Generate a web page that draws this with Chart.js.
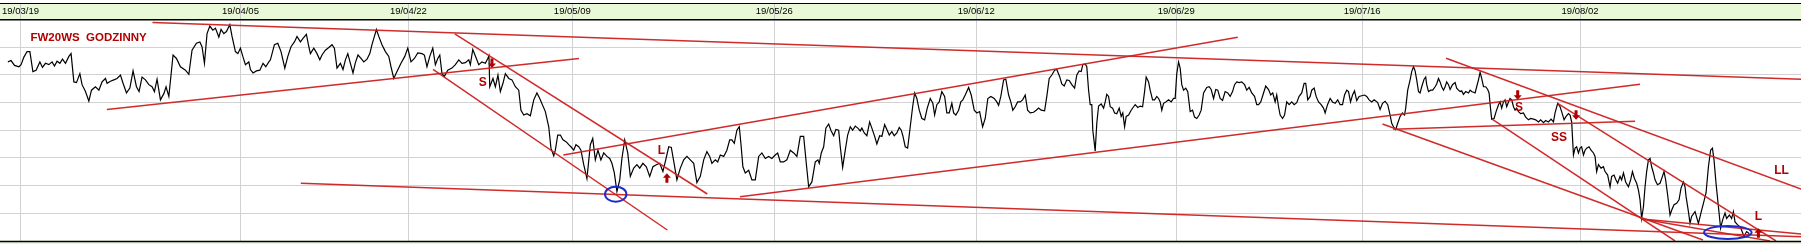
<!DOCTYPE html>
<html lang="pl">
<head>
<meta charset="UTF-8">
<title>FW20WS godzinny</title>
<script src="https://cdn.jsdelivr.net/npm/chart.js"></script>
<style>
    html, body { margin: 0; padding: 0; background: #fff; }
    #wrap { width: 1801px; height: 244px; }
</style>
</head>
<body>
<div id="wrap"><canvas id="fw20Chart" width="1801" height="244"></canvas></div>
<script>
// x = session hour index, y = FW20 price
const tickHours = [10, 120, 204, 286, 387, 488, 588, 681, 790];
const tickLabels = ['19/03/19', '19/04/05', '19/04/22', '19/05/09', '19/05/26', '19/06/12', '19/06/29', '19/07/16', '19/08/02'];

// hourly closes [hour, price]
const hourlyCloses = [
    [3.7,2330],[5.3,2332],[7,2325],[9.2,2323],[10.3,2326],[11.7,2337],[13.3,2345],[14.7,2345],[16.2,2316],[17.8,2318],
    [19.7,2330],[21,2322],[22.5,2328],[24.2,2326],[25.8,2330],[27,2324],[28.3,2331],[29.7,2328],[31,2334],[32.5,2328],
    [34.2,2338],[35.3,2342],[36.7,2301],[38,2300],[39.7,2313],[40.8,2297],[42.5,2287],[44.2,2273],[45.5,2289],[47.5,2294],
    [49.2,2289],[50.8,2301],[52.5,2306],[53.3,2299],[55,2302],[56.7,2304],[58.3,2306],[60,2311],[61.3,2299],[63,2285],
    [64.7,2292],[66.3,2317],[68,2294],[69.3,2287],[70.8,2308],[72.5,2304],[74.2,2297],[75.8,2294],[77,2287],[78.3,2305],
    [80,2275],[81.7,2284],[82.8,2294],[84.2,2280],[86.3,2340],[88,2335],[90,2323],[92.5,2318],[94.2,2312],[95.8,2347],
    [98,2357],[99.7,2359],[100.8,2352],[102,2328],[103.3,2371],[104.7,2382],[106.2,2376],[107.5,2379],[109.2,2366],[110.3,2377],
    [111.7,2371],[113,2374],[114.7,2384],[115.8,2367],[117.5,2345],[118.7,2342],[120,2350],[121.2,2338],[122.5,2326],[124.2,2330],
    [125,2319],[126.3,2314],[128,2317],[129.7,2318],[131.3,2328],[132.7,2323],[134.2,2330],
    [135,2333],[137,2355],[138.7,2357],[140.3,2345],[142.2,2321],[143.7,2338],[145.3,2352],[147,2359],[148.3,2367],[150,2359],
    [151.3,2364],[153,2370],[154.2,2352],[155,2342],[156.7,2350],[158.3,2342],[159.7,2333],[160.8,2340],[162.5,2347],[164.2,2351],
    [165.8,2355],[167,2350],[168.3,2321],[170,2328],[171.3,2319],[172.5,2333],[173.7,2342],[175,2328],[176.3,2314],[177.5,2329],
    [178.8,2340],[180.3,2335],[181.7,2330],[183.3,2334],[184.7,2342],[185.8,2355],[187,2367],[188,2377],[189.2,2367],[190.8,2355],
    [192.5,2345],[194.2,2338],[195.3,2323],[196.7,2306],[198.3,2316],[200.3,2328],[202.2,2338],[203.7,2350],[205.3,2330],[207,2335],
    [208.7,2343],[210.8,2342],[212,2340],[213.3,2323],[214.7,2338],[216.2,2350],[217.5,2326],[218.7,2335],[219.7,2340],[220.8,2313],
    [222,2309],[223.7,2318],[225.8,2321],[227.5,2326],[229.2,2333],[230.8,2328],[232.5,2329],[234.2,2333],[235,2326],[236.2,2348],
    [238,2335],[239.2,2326],[240.8,2330],[242.5,2328],[243.7,2335],[244.3,2339],[244.7,2294],[246.3,2306],[247.5,2294],[248.8,2311],
    [250,2287],[251.3,2299],[252.5,2313],[254.2,2306],[255.8,2304],[257.5,2294],[259.2,2289],[260.3,2260],[261.7,2253],[263.3,2255],
    [265,2252],[266.7,2275],[268.3,2285],[269.7,2277],
    [272.5,2258],[274.2,2236],[275.3,2205],[276.7,2194],[277.5,2202],[278.7,2224],[280,2224],[281.3,2217],[283,2214],[284.2,2210],
    [285.3,2207],[286.7,2202],[287.8,2210],[289.2,2207],[290.3,2202],[291.7,2181],[293.3,2161],[295,2210],[296.2,2219],[297.5,2188],
    [298.8,2202],[300.3,2188],[301.7,2198],[303.3,2193],[304.7,2190],[305.8,2183],[307,2169],[308.3,2142],[309.7,2159],[310.8,2190],
    [312.2,2217],[313.7,2198],[315,2164],[316.7,2176],[318.3,2181],[319.7,2176],[321.3,2183],[323,2178],[324.7,2164],[326.3,2178],
    [328,2181],[329.7,2183],[331.3,2171],[332.7,2188],[334.2,2207],[335.5,2206],[337,2181],[338.3,2159],[340,2176],[341.7,2188],
    [343.3,2193],[345,2188],[346.7,2183],[348.3,2155],[350,2164],[351.7,2188],[353.3,2200],[354.7,2193],[355.8,2183],[357.5,2188],
    [358.7,2185],[360,2195],[361.7,2193],[363.3,2202],[364.7,2217],[365.8,2217],[367,2212],[368.3,2231],[369.5,2236],[370.3,2212],
    [371.3,2178],[372.5,2169],[374.2,2173],[375.8,2159],[377.5,2159],[379.2,2193],[380.8,2198],[382.5,2190],[384.2,2193],[385.8,2190],
    [387.5,2195],[388.7,2198],[390,2185],[391.7,2185],[393.3,2188],[395,2202],[396.7,2198],[398.3,2193],[400,2222],[401.7,2222],
    [403,2183],[404.2,2149],[405.8,2156],
    [407.5,2185],[408.8,2188],[409.5,2183],[410.5,2198],[411.7,2207],[412.8,2234],[414.2,2240],[415.3,2231],[416.7,2223],[417.8,2232],
    [419.2,2231],[420,2207],[421.2,2177],[422.5,2202],[423.7,2224],[425,2236],[426.2,2231],[427.5,2237],[428.8,2234],[430,2230],
    [430.8,2234],[432,2227],[433.3,2223],[434.7,2243],[435.8,2234],[437.2,2222],[438.3,2211],[439.7,2223],[440.8,2222],[442.2,2239],
    [443.3,2232],[444.5,2224],[445.8,2229],[447,2223],[448.3,2227],[449.5,2235],[450.5,2231],[451.3,2223],[452.5,2207],[453.7,2205],
    [455,2236],[456.2,2265],[457.2,2285],[458.3,2277],[459.5,2260],[460.8,2248],[462.2,2246],[463.5,2263],[465,2277],[466.3,2270],
    [467.2,2253],[468.3,2268],[469.5,2272],[470.8,2287],[472.2,2280],[473.3,2256],[474.5,2256],[475.8,2270],[476.7,2256],[477.8,2253],
    [479.2,2260],[480.3,2272],[481.3,2275],[482.5,2282],[484.2,2293],[485.5,2282],[487,2260],[488.3,2256],[489.7,2258],[491.2,2236],
    [492.5,2248],[493.8,2277],[495.3,2280],[497,2277],[498.3,2272],[499.2,2267],[500.3,2280],[501.7,2304],[502.8,2305],[504.2,2282],
    [505.3,2272],[506.3,2260],[507.5,2265],[508.7,2272],[510,2272],[511.2,2275],[512.5,2282],[513.7,2260],[515,2256],[516.7,2257],
    [518,2260],[519.2,2263],[520.5,2260],[522.2,2259],[523.3,2280],[524.5,2306],[525.8,2311],[527.2,2318],[528.3,2319],[529.7,2309],
    [530.8,2298],[532,2295],[533.3,2304],[534.5,2303],[535.8,2297],[537.2,2292],[538.3,2311],[539.5,2317],[540.5,2316],[541.3,2326],
    [542.5,2327],[543.3,2323],[544.2,2289],[545,2268],[545.8,2268],[546.3,2231],[547.5,2201],
    [548.3,2241],[549.2,2266],[550.5,2269],[551.7,2263],[552.5,2272],[553.3,2283],[554.2,2280],[555,2265],[556.2,2263],[557.2,2256],
    [558.3,2255],[559.5,2263],[560.5,2251],[561.3,2256],[562.2,2236],[563,2251],[564.2,2253],[565.5,2260],[566.7,2265],[567.5,2268],
    [568.8,2264],[570,2266],[571.2,2265],[572.2,2287],[573,2308],[574.2,2301],[575,2289],[576.2,2275],[577.2,2275],[578.3,2280],
    [579.2,2277],[580,2272],[580.8,2260],[581.7,2270],[582.8,2272],[584.2,2275],[585.5,2272],[586.7,2277],[587.5,2277],[588.3,2313],
    [589.2,2330],[590,2321],[590.8,2297],[591.7,2289],[592.8,2292],[593.8,2287],[595,2258],[596.2,2260],[597.2,2250],[598.3,2248],
    [599.5,2253],[600.5,2260],[601.7,2285],[603.3,2293],[604.5,2294],[605.5,2290],[606.7,2277],[607.8,2290],[608.8,2289],[610,2277],
    [611.2,2274],[612.5,2287],[613.8,2285],[615,2280],[616.2,2287],[617.2,2297],[618.3,2301],[619.5,2300],[620.8,2301],[622.2,2297],
    [623.3,2289],[624.5,2293],[625.8,2285],[627.2,2280],[628.3,2268],[629.2,2268],[630.3,2272],[631.7,2285],[632.8,2295],[634.2,2290],
    [635.3,2282],[636.3,2285],[637.5,2272],[638.3,2282],[639.2,2265],[640,2253],[641.2,2248],[642.2,2253],[643.3,2272],[644.5,2268],
    [645.8,2272],[647,2268],[648.3,2271],[649.5,2280],[650.8,2285],[652,2299],[652.8,2299],[653.8,2275],[655,2280],[655.8,2289],
    [657,2292],[658,2280],[659.2,2272],[660.5,2268],[661.7,2263],[662.5,2256],[663.7,2268],[665,2277],[666.2,2272],[667.5,2270],
    [668.8,2275],[670,2268],[671.2,2268],[672.2,2282],[673.3,2289],[674.2,2287],[675.2,2272],[676.2,2282],[677.2,2288],[678.3,2274],
    [679.5,2280],[680.8,2281],[682.2,2282],[683.3,2280],[684.5,2275],[685.8,2272],[687,2275],
    [688.8,2271],[690,2261],[691.2,2270],[692.5,2273],[693.8,2268],[695,2253],[695.8,2241],[696.7,2236],[697.8,2232],[698.8,2241],
    [700,2251],[701.2,2256],[702.2,2253],[702.8,2263],[703.8,2289],[705,2304],[705.8,2316],[706.7,2323],[707.5,2317],[708.3,2304],
    [709.2,2287],[710,2285],[710.8,2294],[712,2305],[712.8,2308],[713.3,2297],[714.2,2287],[715.3,2289],[716.3,2289],[717.5,2294],
    [718.3,2298],[719.2,2306],[720,2301],[720.8,2294],[721.7,2289],[722.5,2294],[723.3,2301],[724.2,2297],[725,2290],[726.2,2297],
    [727.5,2300],[728.3,2292],[729.2,2289],[730,2287],[730.8,2288],[731.7,2283],[732.8,2287],[734.2,2285],[735,2289],[735.8,2287],
    [737.5,2285],[738.3,2294],[739.2,2304],[740,2315],[740.8,2306],[741.7,2294],[742.8,2294],[743.8,2290],[744.5,2285],[745.2,2263],
    [745.8,2247],[747,2248],[748,2258],[749.2,2268],[750,2272],[750.8,2263],[751.7,2272],[752.5,2275],[753.3,2265],[754.2,2272],
    [755,2277],[755.8,2275],[756.7,2265],[757.5,2260],[758.3,2263],[759.2,2258],[760.3,2255],[761.7,2256],[762.8,2250],[764.2,2246],
    [765.3,2248],[766.7,2247],[767.8,2246],[769.2,2243],[770.3,2246],[771.7,2242],[772.8,2245],[774.2,2243],[775.5,2247],[776.7,2243],
    [777.5,2256],[778.8,2270],[780,2265],[780.8,2258],[782,2246],[783,2251],[784.2,2255],[785,2253],[785.8,2243],[786.7,2195],
    [787.5,2205],[788.3,2207],[789.2,2198],[790,2205],[790.8,2207],[791.7,2195],[792.5,2202],[793.3,2205],[794.5,2207],[795.5,2202],
    [796.7,2198],[797.5,2193],[798.3,2171],[799.2,2181],[800.5,2176],[801.7,2178],[802.5,2171],[803.8,2166],[805,2149],[805.8,2164],
    [807,2166],[807.8,2160],[808.8,2154],[810,2164],[810.8,2159],[811.7,2169],[812.8,2156],[814.2,2149],[815.3,2159],[816.2,2171],
    [817.2,2161],[818.3,2154],[819.2,2144],[820,2130],[820.8,2103],[821.7,2120],[822.5,2149],[823.3,2171],[824.2,2188],[825,2190],
    [825.8,2178],[826.7,2169],[827.5,2159],[828.7,2152],[830,2154],[831.2,2164],[832,2171],[832.8,2159],[833.8,2137],[835,2108],
    [835.8,2115],[837,2123],[838.3,2125],[839.5,2130],[840.5,2147],[841.7,2156],[842.5,2149],
    [843,2135],[844.2,2113],[845,2096],[845.8,2106],[847.5,2113],[849.2,2096],[850.8,2115],[851.7,2125],[853,2140],[854.2,2178],
    [855.3,2202],[856.2,2205],[857,2188],[858,2154],[859.2,2120],[860.3,2089],[861.3,2101],[862.5,2111],[863.3,2103],[864.7,2108],
    [865.8,2103],[866.7,2113],[867.5,2098],[868.7,2094],[870,2091],[870.8,2086],[872,2077],[873.3,2084],[874.7,2081]
];

// hand drawn trend lines [hour1, price1, hour2, price2]
const trendLines = [
    [76, 2387, 900.5, 2305],
    [53.2, 2261, 289.3, 2335],
    [227.2, 2370.5, 353.5, 2138.5],
    [216.3, 2319.3, 333.5, 2086.3],
    [150.2, 2154, 900.5, 2076.6],
    [281.5, 2195, 618.8, 2365.7],
    [369.8, 2134.6, 820, 2297.6],
    [696.5, 2232.3, 817.5, 2243.9],
    [691.2, 2240, 851.5, 2071.8],
    [746.2, 2246.8, 837.5, 2070.4],
    [723, 2335.3, 900.5, 2145.8],
    [778.8, 2270, 888, 2070.4],
    [821, 2102.3, 900.5, 2080.5],
    [821, 2102.3, 885, 2070.4]
];

// signals: [text, hour, price]
const signalLabels = [
    ['S', 241.2, 2300], ['L', 330.5, 2202], ['S', 759.5, 2263],
    ['SS', 779.5, 2220], ['LL', 890.8, 2172], ['L', 879.2, 2105]
];
// arrows: [hour, price at tip, direction]
const signalArrows = [
    [245.8, 2321, 'down'], [333.3, 2168.5, 'up'], [758.8, 2275, 'down'],
    [788, 2246, 'down'], [879.2, 2089, 'up']
];
// circled lows: [hour, price]
const circledLows = [[307.7, 2138.2], [863.9, 2082.7]];
const ringRadii = [[10.7, 7.5], [23.8, 6.5]];

const FONT = "'Liberation Sans', Arial, sans-serif";
const MARK_RED = '#b00000';

function drawArrow(ctx, x, tipY, dir) {
    const s = dir === 'down' ? 1 : -1;
    ctx.beginPath();
    ctx.moveTo(x, tipY);
    ctx.lineTo(x - 4, tipY - s * 4.5);
    ctx.lineTo(x - 1.5, tipY - s * 4.5);
    ctx.lineTo(x - 1.5, tipY - s * 9.5);
    ctx.lineTo(x + 1.5, tipY - s * 9.5);
    ctx.lineTo(x + 1.5, tipY - s * 4.5);
    ctx.lineTo(x + 4, tipY - s * 4.5);
    ctx.closePath();
    ctx.fill();
}

const chartDecor = {
    id: 'chartDecor',
    beforeDraw(chart) {
        const { ctx, chartArea: a, width } = chart;
        const xs = chart.scales.x;
        ctx.save();
        ctx.fillStyle = '#e9f8d6';
        ctx.fillRect(0, 3, width, a.top - 3);
        ctx.strokeStyle = '#c8c8c8';
        ctx.lineWidth = 1;
        tickHours.forEach(h => {
            const px = Math.round(xs.getPixelForValue(h)) + 0.5;
            ctx.beginPath();
            ctx.moveTo(px, 4);
            ctx.lineTo(px, a.top);
            ctx.stroke();
        });
        ctx.strokeStyle = '#000';
        ctx.lineWidth = 1.2;
        ctx.beginPath();
        ctx.moveTo(0, 3.5);
        ctx.lineTo(width, 3.5);
        ctx.stroke();
        ctx.restore();
    },
    afterDatasetsDraw(chart) {
        const { ctx, chartArea: a } = chart;
        const xs = chart.scales.x, ys = chart.scales.y;
        ctx.save();
        ctx.fillStyle = MARK_RED;
        ctx.font = 'bold 11.5px ' + FONT;
        ctx.textBaseline = 'middle';
        ctx.textAlign = 'left';
        ctx.fillText('FW20WS  GODZINNY', a.left + 30, 37.5);

        ctx.font = 'bold 12px ' + FONT;
        ctx.textAlign = 'center';
        signalLabels.forEach(([t, h, p]) => {
            ctx.fillText(t, xs.getPixelForValue(h), ys.getPixelForValue(p));
        });
        signalArrows.forEach(([h, p, dir]) => {
            drawArrow(ctx, xs.getPixelForValue(h), ys.getPixelForValue(p), dir);
        });

        ctx.strokeStyle = '#1c2ccc';
        ctx.lineWidth = 2;
        circledLows.forEach(([h, p], i) => {
            ctx.beginPath();
            ctx.ellipse(xs.getPixelForValue(h), ys.getPixelForValue(p), ringRadii[i][0], ringRadii[i][1], 0, 0, Math.PI * 2);
            ctx.stroke();
        });
        ctx.restore();
    },
    afterDraw(chart) {
        const { ctx, chartArea: a, width, height } = chart;
        ctx.save();
        ctx.fillStyle = '#e9f8d6';
        ctx.fillRect(0, a.bottom + 1, width, height - a.bottom - 1);
        ctx.strokeStyle = '#000';
        ctx.lineWidth = 1.5;
        ctx.beginPath();
        ctx.moveTo(0, a.bottom + 0.5);
        ctx.lineTo(width, a.bottom + 0.5);
        ctx.stroke();
        ctx.restore();
    }
};

const datasets = [{
    label: 'FW20WS',
    data: hourlyCloses.map(([h, c]) => ({ x: h, y: c })),
    borderColor: '#000',
    borderWidth: 1.2,
    pointRadius: 0,
    tension: 0,
    order: 1
}];
trendLines.forEach(([h1, p1, h2, p2]) => {
    datasets.push({
        data: [{ x: h1, y: p1 }, { x: h2, y: p2 }],
        borderColor: 'rgba(204,32,32,0.95)',
        borderWidth: 1.5,
        pointRadius: 0,
        order: 0
    });
});

new Chart(document.getElementById('fw20Chart'), {
    type: 'line',
    data: { datasets },
    options: {
        responsive: false,
        animation: false,
        devicePixelRatio: 1,
        layout: { padding: { left: 0, right: 0, top: 0, bottom: 3 } },
        plugins: { legend: { display: false }, tooltip: { enabled: false } },
        scales: {
            x: {
                type: 'linear',
                position: 'top',
                min: 0,
                max: 900.5,
                afterFit: s => { s.height = 19.5; },
                afterBuildTicks: s => { s.ticks = tickHours.map(v => ({ value: v })); },
                grid: { color: '#d2d2d2', lineWidth: 1, drawTicks: false },
                border: { display: true, color: '#000', width: 1.5 },
                ticks: {
                    padding: 2,
                    color: '#000',
                    font: { family: FONT, size: 9.5 },
                    maxRotation: 0,
                    autoSkip: false,
                    callback: (v, i) => tickLabels[i]
                }
            },
            y: {
                min: 2070.35,
                max: 2391.5,
                afterFit: s => { s.width = 0; },
                ticks: { display: false, stepSize: 40, includeBounds: false },
                grid: { color: '#d2d2d2', lineWidth: 1, drawTicks: false },
                border: { display: false }
            }
        }
    },
    plugins: [chartDecor]
});
</script>
</body>
</html>
